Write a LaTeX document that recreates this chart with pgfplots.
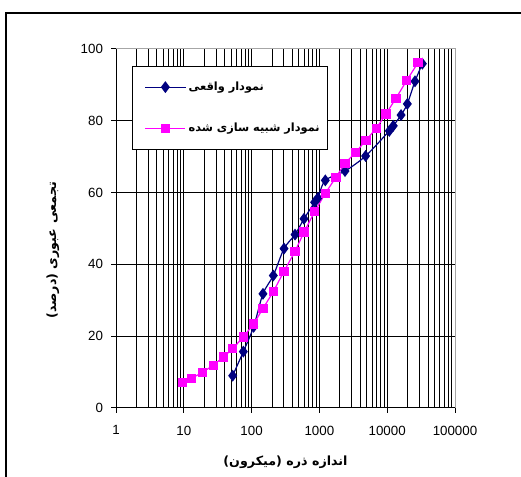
\documentclass[border=0pt]{standalone}
\usepackage{pgfplots}
\pgfplotsset{compat=1.18}
\usepackage{fontspec}
\setmainfont{Liberation Sans}
\newfontfamily\arabicfont[Script=Arabic]{DejaVu Sans}
\TeXXeTstate=1
\definecolor{navyc}{RGB}{0,0,128}
\definecolor{magc}{RGB}{255,0,255}
\begin{document}
\begin{tikzpicture}
\useasboundingbox (0pt,0pt) rectangle (390.75pt,357.75pt);
\draw[line width=0.9pt] (4.5pt,0pt) -- (4.5pt,348pt) -- (390.75pt,348pt);
\begin{axis}[
  at={(87pt,51.75pt)}, anchor=south west,
  scale only axis, width=254.25pt, height=269.25pt,
  xmode=log, xmin=1, xmax=100000, ymin=0, ymax=100,
  xtick={1,10,100,1000,10000,100000},
  xticklabels={1,10,100,1000,10000,100000},
  minor xtick={2,3,4,5,6,7,8,9,20,30,40,50,60,70,80,90,200,300,400,500,600,700,800,900,2000,3000,4000,5000,6000,7000,8000,9000,20000,30000,40000,50000,60000,70000,80000,90000},
  ytick={0,20,40,60,80,100},
  xmajorgrids, xminorgrids, ymajorgrids,
  grid style={black, line width=0.75pt},
  minor grid style={black, line width=0.75pt},
  axis line style={gray!70, line width=0.75pt},
  tick pos=left, tick align=center,
  major tick length=7.5pt, minor tick length=0pt,
  major tick style={black, line width=0.75pt},
  tick label style={font=\fontsize{10}{12}\selectfont},
  xticklabel style={yshift=-6pt},
  yticklabel style={xshift=-2.5pt},
  /pgf/number format/assume math mode=true,
  xlabel={\arabicfont\bfseries\beginR اندازه ذره (میکرون)\endR},
  ylabel={\arabicfont\bfseries\beginR تجمعی عبوری (درصد)\endR},
  label style={font=\fontsize{9.5}{11}\selectfont},
  xlabel style={at={(axis description cs:0.5,-0.150)}, anchor=center},
  ylabel style={at={(axis description cs:-0.186,0.440)}, anchor=center},
  legend style={at={(axis description cs:0.048,0.9526)}, anchor=north west,
    draw=black, line width=0.75pt, fill=white, inner xsep=4pt, inner ysep=9.5pt,
    row sep=19pt, font=\arabicfont\bfseries\fontsize{8.5}{10}\selectfont},
  legend cell align=left,
  legend image code/.code={\path (-5pt,0pt); \draw[mark repeat=2,mark phase=2,#1] plot coordinates {(0pt,0pt) (15pt,0pt) (30pt,0pt)};},
]
\addplot[navyc, line width=0.9pt, smooth, mark=diamond*, mark size=3.75pt, mark options={solid, fill=navyc, draw=navyc}] coordinates {
(52.6,9.0) (75.5,15.7) (107,22.6) (147,31.8) (209,36.9) (301,44.4) (437,48.3) (593,52.7) (851,57.3) (950,58.5) (1222,63.4) (2387,66.0) (4800,70.2) (10740,77.2) (12300,78.6) (16000,81.6) (19800,84.7) (25700,91.0) (33000,95.9)
};
\addlegendentry{\beginR نمودار واقعی\endR}
\addplot[magc, line width=0.9pt, mark=square*, mark size=3pt, mark options={solid, fill=magc, draw=magc}] coordinates {
(9.5,7.2) (13.1,8.3) (18.8,9.9) (27.2,11.9) (38.3,14.2) (52.6,16.5) (75.5,19.8) (107,23.4) (147,27.7) (209,32.4) (301,38.1) (437,43.6) (593,49.0) (851,54.7) (1222,59.8) (1757,64.3) (2387,68.2) (3430,71.2) (4866,74.6) (6900,77.9) (9590,81.9) (13480,86.3) (19380,91.2) (28460,96.2)
};
\addlegendentry{\beginR نمودار شبیه سازی شده\endR}
\draw[black, line width=0.75pt] (rel axis cs:0,1) -- (rel axis cs:0,0) -- (rel axis cs:1,0);
\end{axis}
\end{tikzpicture}
\end{document}
